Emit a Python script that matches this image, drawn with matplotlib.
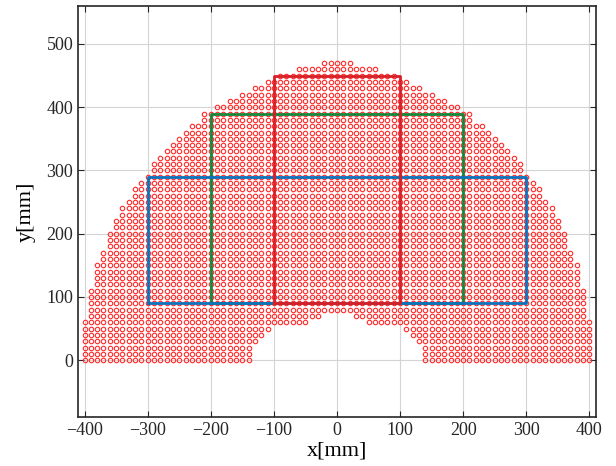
import numpy as np
import matplotlib
matplotlib.use("Agg")
import matplotlib.pyplot as plt

plt.rcParams['font.family'] = ['Liberation Serif', 'DejaVu Serif']

# sample rows of the reachable grid (10 mm pitch)
row_y = list(range(0, 480, 10))
# largest |x| reached on each row
outer_x = [400, 400, 400, 400, 400, 400, 400, 390, 390, 390,
           390, 390, 380, 380, 380, 380, 370, 370, 360, 360,
           360, 350, 350, 340, 340, 330, 320, 320, 310, 300,
           290, 290, 280, 270, 260, 250, 240, 230, 210, 210,
           190, 170, 150, 130, 110, 90, 60, 20]
# smallest |x| on the rows that have a hole in the middle (0 = no hole)
inner_x = [140, 140, 140, 130, 120, 110, 50, 30] + [0] * 40

# rectangles: (x0, x1, y0, y1, colour), drawn in this order
rect_x0 = [-200, -300, -100]
rect_x1 = [200, 300, 100]
rect_y0 = [90, 90, 90]
rect_y1 = [390, 290, 450]
rect_col = ['#13873a', '#0b72bd', '#d81f26']

# build point list
px, py = [], []
for y, xo, xi in zip(row_y, outer_x, inner_x):
    if xi == 0:
        xs = np.arange(-xo, xo + 1, 10)
    else:
        right = np.arange(xi, xo + 1, 10)
        xs = np.concatenate([-right[::-1], right])
    px.extend(xs)
    py.extend([y] * len(xs))

fig = plt.figure(figsize=(6.16, 4.66), dpi=100)
ax = fig.add_axes([0.127, 0.105, 0.840, 0.882])

ax.plot(px, py, 'o', markersize=3.2, markerfacecolor='none',
        markeredgecolor='#ff2a2a', markeredgewidth=0.8, zorder=3)

for x0, x1, y0, y1, c in zip(rect_x0, rect_x1, rect_y0, rect_y1, rect_col):
    ax.plot([x0, x1, x1, x0, x0], [y0, y0, y1, y1, y0], color=c, lw=2.0, zorder=4)

ax.set_xlim(-410, 410)
ax.set_ylim(-90, 560)
ax.set_xticks(range(-400, 401, 100))
ax.set_yticks(range(0, 501, 100))
ax.tick_params(direction='in', top=True, right=True, labelsize=13, length=4,
               width=0.8, colors='#262626')
ax.grid(True, color='#d4d4d4', lw=0.8)
ax.set_axisbelow(True)
for s in ax.spines.values():
    s.set_linewidth(1.2)
    s.set_color('#262626')

ax.set_xlabel('x[mm]', fontsize=16, labelpad=2)
ax.set_ylabel('y[mm]', fontsize=16, labelpad=8)

fig.savefig('out.png', dpi=100)
